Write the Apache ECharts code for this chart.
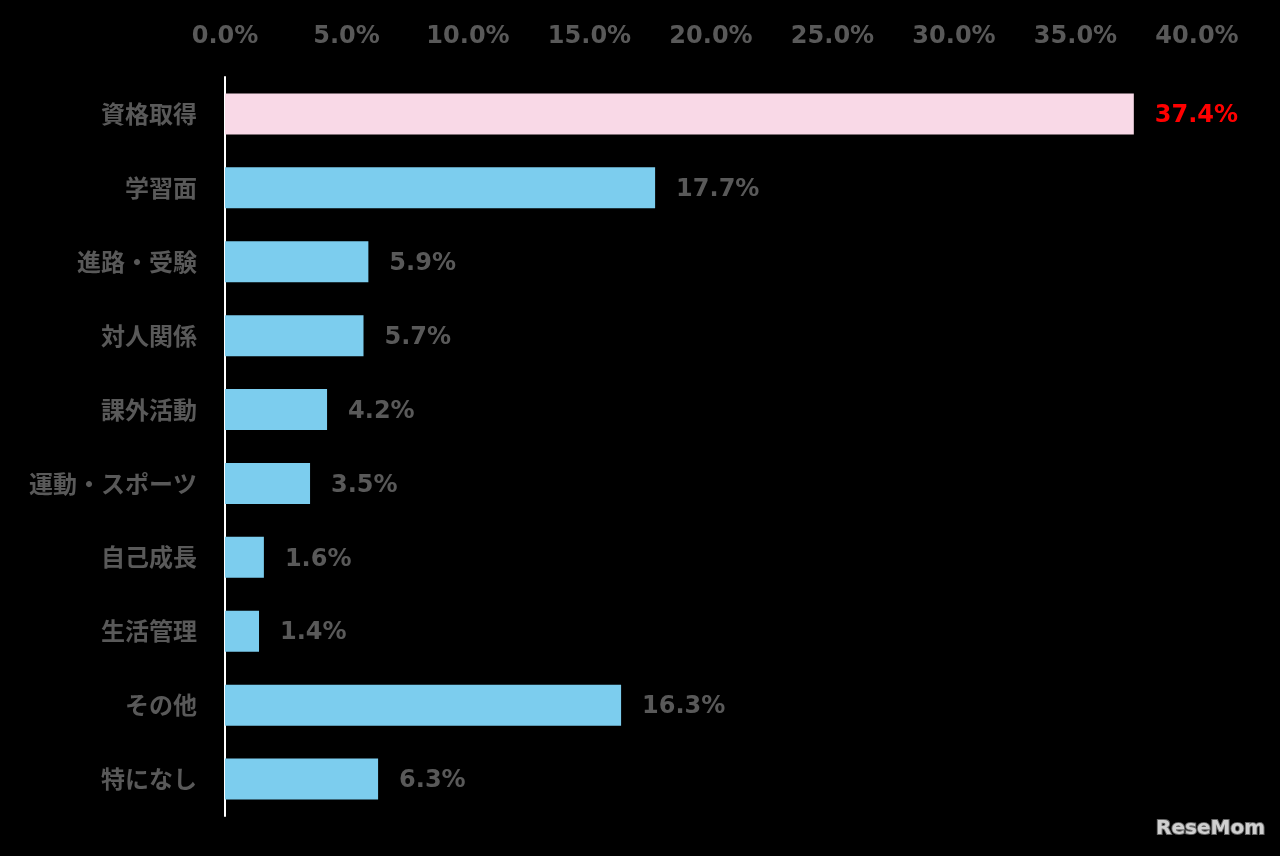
<!DOCTYPE html>
<html><head><meta charset="utf-8">
<script src="https://cdn.jsdelivr.net/npm/echarts@6/dist/echarts.min.js"></script>
<style>html,body{margin:0;padding:0;background:#000;}#c{width:1280px;height:856px;}</style>
</head><body><div id="c"></div>
<script>
const categories = ['資格取得','学習面','進路・受験','対人関係','課外活動','運動・スポーツ','自己成長','生活管理','その他','特になし'];
const values = [37.4, 17.7, 5.9, 5.7, 4.2, 3.5, 1.6, 1.4, 16.3, 6.3];
const xTicks = [0, 5, 10, 15, 20, 25, 30, 35, 40];

const cjkFont = '"Noto Sans CJK JP", "Noto Sans", sans-serif';
const numFont = '"DejaVu Sans", "Noto Sans CJK JP", sans-serif';
const chart = echarts.init(document.getElementById('c'));
chart.setOption({
  backgroundColor: '#000',
  animation: false,
  grid: {left: 225, right: 83, top: 77, bottom: 40, containLabel: false},
  xAxis: {
    type: 'value', position: 'top', min: xTicks[0], max: xTicks[xTicks.length-1], interval: 5,
    axisLine: {show: false}, axisTick: {show: false}, splitLine: {show: false},
    axisLabel: {margin: 28, color: '#595959', fontSize: 24, fontWeight: 'bold', fontFamily: numFont,
      formatter: v => v.toFixed(1) + '%'}
  },
  yAxis: {
    type: 'category', inverse: true, data: categories,
    axisLine: {show: true, lineStyle: {color: '#ffffff', width: 2}},
    axisTick: {show: false},
    axisLabel: {margin: 28, color: '#595959', fontSize: 24, fontWeight: 'bold', fontFamily: cjkFont}
  },
  series: [{
    type: 'bar', barWidth: 41,
    data: values.map((v, i) => ({
      value: v,
      itemStyle: {color: i === 0 ? '#f9d9e7' : '#7ccdee'},
      label: i === 0 ? {color: '#ff0000'} : {}
    })),
    label: {show: true, position: 'right', distance: 21, offset: [0, 2], color: '#595959', fontSize: 24,
      fontWeight: 'bold', fontFamily: numFont, formatter: p => p.value.toFixed(1) + '%'}
  }],
  graphic: [{
    type: 'text', right: 14, bottom: 16,
    style: {text: 'ReseMom', fill: '#d0d0d0', font: 'bold 20px "DejaVu Sans", sans-serif',
      stroke: '#666', lineWidth: 2}
  }]
});
</script></body></html>
